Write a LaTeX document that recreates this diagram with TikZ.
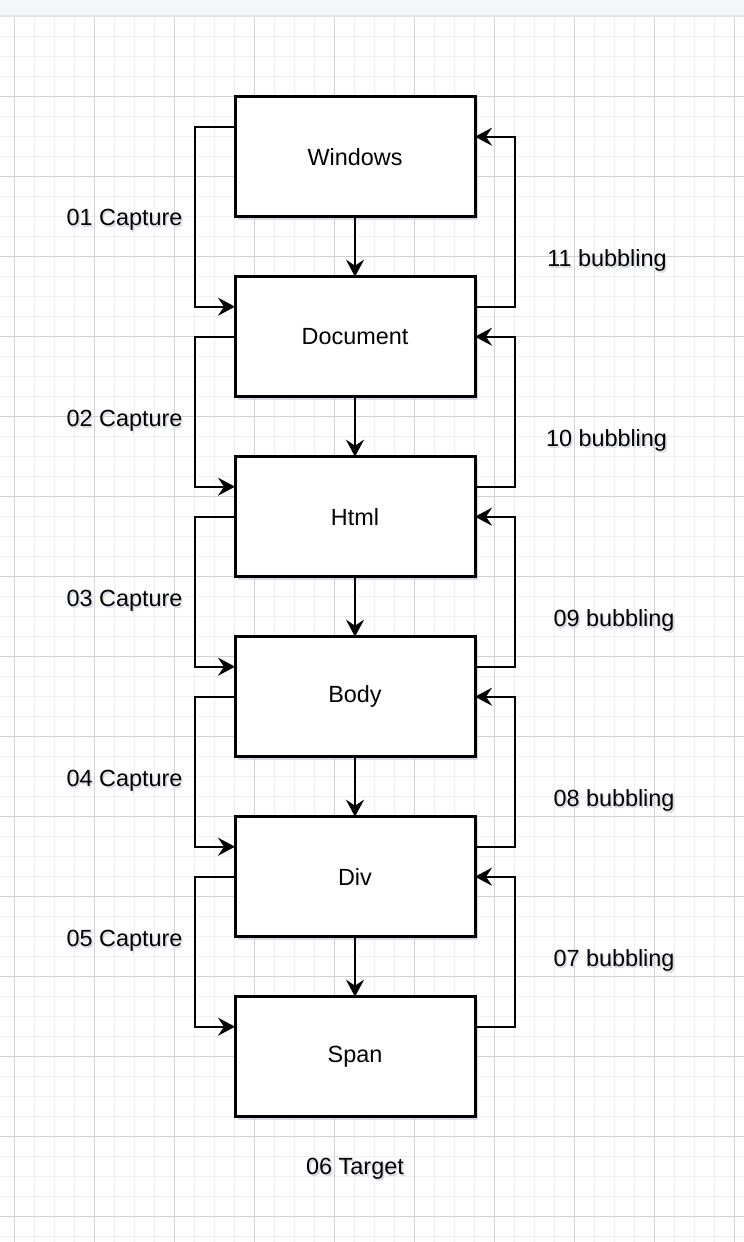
\documentclass[tikz,border=0pt]{standalone}
\usepackage{fontspec}
\setmainfont{Liberation Sans}
\usetikzlibrary{
	positioning,
	arrows.meta,
	shadows
}
\definecolor{boxshadow}{HTML}{9FA3C2}
\definecolor{txtshadow}{HTML}{D6D8E6}
\definecolor{gridminor}{HTML}{F0F0F0}
\definecolor{gridmajor}{HTML}{D2D2D2}
\definecolor{barcolor}{HTML}{F5F6F8}
\newcommand{\evfont}{\fontsize{11.7}{14}\selectfont}
\newcommand{\shadowtext}[1]{\makebox[0pt][l]{\hspace{0.8pt}\raisebox{-1.4pt}{\textcolor{txtshadow}{#1}}}#1}
\tikzset{
	evbox/.style={
		draw=black,
		fill=white,
		line width=1.5pt,
		minimum width=120pt,
		minimum height=60pt,
		inner sep=0pt,
		outer sep=0pt,
		drop shadow={shadow xshift=1.5pt, shadow yshift=-1.5pt, fill=boxshadow, opacity=0.4},
		font=\evfont
	},
	phaselabel/.style={
		anchor=base,
		inner sep=0pt,
		font=\evfont
	},
	arrow/.style={
		-{Stealth[length=8.5pt, width=9pt, inset=3pt]},
		line width=1.2pt,
		color=black
	}
}

\begin{document}
\begin{tikzpicture}[x=0.5pt, y=-0.5pt, node distance=30pt]
	
	% Background: toolbar strip and grid
	\useasboundingbox (0,0) rectangle (744,1242);
	\fill[white] (0,0) rectangle (744,1242);
	\foreach \gx in {14.3,34.3,...,744} \draw[gridminor, line width=0.5pt] (\gx,15) -- (\gx,1242);
	\foreach \gy in {16.7,36.7,...,1242} \draw[gridminor, line width=0.5pt] (0,\gy) -- (744,\gy);
	\foreach \gx in {14.3,94.3,...,744} \draw[gridmajor, line width=0.5pt] (\gx,15) -- (\gx,1242);
	\foreach \gy in {16.7,96.7,...,1242} \draw[gridmajor, line width=0.5pt] (0,\gy) -- (744,\gy);
	\fill[barcolor] (0,0) rectangle (744,15);
	\draw[gray!22, line width=1pt] (0,15.5) -- (744,15.5);
	
	% Nodes
	% Middle column: event path
	\node[evbox] (win) at (355,156.7) {Windows};
	\node[evbox, below=of win] (doc) {Document};
	\node[evbox, below=of doc] (html) {Html};
	\node[evbox, below=of html] (body) {Body};
	\node[evbox, below=of body] (div) {Div};
	\node[evbox, below=of div] (span) {Span};
	
	% Left side: capture phase
	\node[phaselabel] (cap1) at (124.5,225) {\shadowtext{01 Capture}};
	\node[phaselabel] (cap2) at (124.5,426) {\shadowtext{02 Capture}};
	\node[phaselabel] (cap3) at (124.5,606) {\shadowtext{03 Capture}};
	\node[phaselabel] (cap4) at (124.5,786) {\shadowtext{04 Capture}};
	\node[phaselabel] (cap5) at (124.5,946) {\shadowtext{05 Capture}};
	
	% Bottom: target phase
	\node[phaselabel] (target) at (355,1174) {\shadowtext{06 Target}};
	
	% Right side: bubbling phase
	\node[phaselabel] (bub7) at (614,966) {\shadowtext{07 bubbling}};
	\node[phaselabel] (bub8) at (614,806) {\shadowtext{08 bubbling}};
	\node[phaselabel] (bub9) at (614,626) {\shadowtext{09 bubbling}};
	\node[phaselabel] (bub10) at (606.5,446) {\shadowtext{10 bubbling}};
	\node[phaselabel] (bub11) at (607,266) {\shadowtext{11 bubbling}};
	
	% Arrows
	% Straight down the middle
	\draw[arrow] (win) -- (doc);
	\draw[arrow] (doc) -- (html);
	\draw[arrow] (html) -- (body);
	\draw[arrow] (body) -- (div);
	\draw[arrow] (div) -- (span);
	
	% Capture: down the left side
	\draw[arrow] ([yshift=-15pt]win.north west) -- ++(-20pt,0) |- ([yshift=-15pt]doc.north west);
	\draw[arrow] (doc.west) -- ++(-20pt,0) |- ([yshift=-15pt]html.north west);
	\draw[arrow] (html.west) -- ++(-20pt,0) |- ([yshift=-15pt]body.north west);
	\draw[arrow] (body.west) -- ++(-20pt,0) |- ([yshift=-15pt]div.north west);
	\draw[arrow] (div.west) -- ++(-20pt,0) |- ([yshift=-15pt]span.north west);
	
	% Bubbling: up the right side
	\draw[arrow] ([yshift=-15pt]span.north east) -- ++(20pt,0) |- (div.east);
	\draw[arrow] ([yshift=-15pt]div.north east) -- ++(20pt,0) |- (body.east);
	\draw[arrow] ([yshift=-15pt]body.north east) -- ++(20pt,0) |- (html.east);
	\draw[arrow] ([yshift=-15pt]html.north east) -- ++(20pt,0) |- (doc.east);
	\draw[arrow] ([yshift=-15pt]doc.north east) -- ++(20pt,0) |- ([yshift=-20pt]win.north east);
	
\end{tikzpicture}
\end{document}
